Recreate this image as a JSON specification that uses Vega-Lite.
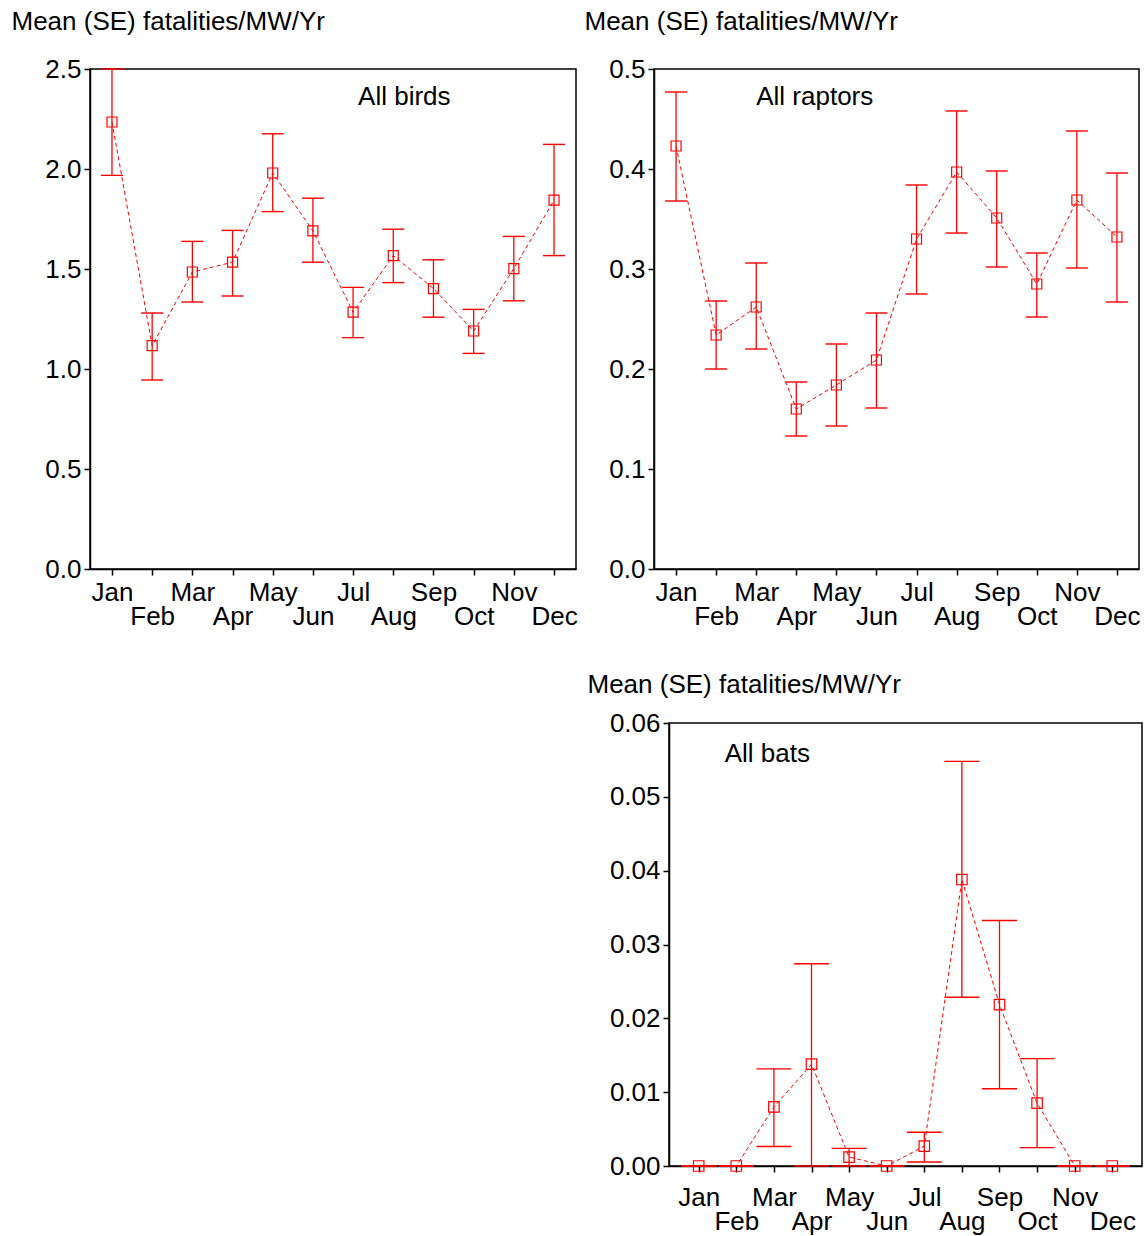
{
  "$schema": "https://vega.github.io/schema/vega-lite/v6.json",
  "background": "white",
  "padding": {"left": 10, "top": 7, "right": 5, "bottom": 5},
  "datasets": {
    "birds": [
      {"month": "Jan", "mean": 2.235, "lower": 1.968, "upper": 2.5},
      {"month": "Feb", "mean": 1.117, "lower": 0.945, "upper": 1.28},
      {"month": "Mar", "mean": 1.485, "lower": 1.335, "upper": 1.638},
      {"month": "Apr", "mean": 1.534, "lower": 1.365, "upper": 1.693},
      {"month": "May", "mean": 1.98, "lower": 1.787, "upper": 2.176},
      {"month": "Jun", "mean": 1.691, "lower": 1.534, "upper": 1.854},
      {"month": "Jul", "mean": 1.284, "lower": 1.157, "upper": 1.408},
      {"month": "Aug", "mean": 1.567, "lower": 1.432, "upper": 1.699},
      {"month": "Sep", "mean": 1.402, "lower": 1.259, "upper": 1.546},
      {"month": "Oct", "mean": 1.19, "lower": 1.078, "upper": 1.298},
      {"month": "Nov", "mean": 1.502, "lower": 1.341, "upper": 1.663},
      {"month": "Dec", "mean": 1.844, "lower": 1.567, "upper": 2.123}
    ],
    "raptors": [
      {"month": "Jan", "mean": 0.423, "lower": 0.368, "upper": 0.477},
      {"month": "Feb", "mean": 0.234, "lower": 0.2, "upper": 0.268},
      {"month": "Mar", "mean": 0.262, "lower": 0.22, "upper": 0.306},
      {"month": "Apr", "mean": 0.16, "lower": 0.133, "upper": 0.187},
      {"month": "May", "mean": 0.184, "lower": 0.143, "upper": 0.225},
      {"month": "Jun", "mean": 0.209, "lower": 0.161, "upper": 0.256},
      {"month": "Jul", "mean": 0.33, "lower": 0.275, "upper": 0.384},
      {"month": "Aug", "mean": 0.397, "lower": 0.336, "upper": 0.458},
      {"month": "Sep", "mean": 0.351, "lower": 0.302, "upper": 0.398},
      {"month": "Oct", "mean": 0.285, "lower": 0.252, "upper": 0.316},
      {"month": "Nov", "mean": 0.369, "lower": 0.301, "upper": 0.438},
      {"month": "Dec", "mean": 0.332, "lower": 0.267, "upper": 0.396}
    ],
    "bats": [
      {"month": "Jan", "mean": 0, "lower": 0, "upper": 0},
      {"month": "Feb", "mean": 0, "lower": 0, "upper": 0},
      {"month": "Mar", "mean": 0.008, "lower": 0.00264, "upper": 0.01315},
      {"month": "Apr", "mean": 0.01379, "lower": 0, "upper": 0.02739},
      {"month": "May", "mean": 0.0012, "lower": 0, "upper": 0.00239},
      {"month": "Jun", "mean": 0, "lower": 0, "upper": 0},
      {"month": "Jul", "mean": 0.00269, "lower": 0.00055, "upper": 0.00458},
      {"month": "Aug", "mean": 0.0388, "lower": 0.02286, "upper": 0.0548},
      {"month": "Sep", "mean": 0.02186, "lower": 0.01046, "upper": 0.03326},
      {"month": "Oct", "mean": 0.00851, "lower": 0.00249, "upper": 0.01454},
      {"month": "Nov", "mean": 0, "lower": 0, "upper": 0},
      {"month": "Dec", "mean": 0, "lower": 0, "upper": 0}
    ],
    "labels": [
      {"panel": "birds", "month": "Jul", "y": 2.36, "text": "All birds"},
      {"panel": "raptors", "month": "Mar", "y": 0.472, "text": "All raptors"},
      {"panel": "bats", "month": "Jan", "y": 0.0558, "text": "All bats"}
    ],
    "blank": [{"t": ""}]
  },
  "spacing": 40,
  "vconcat": [
    {
      "spacing": 5,
      "hconcat": [
        {
          "width": 486,
          "height": 500,
          "data": {"name": "birds"},
          "encoding": {
            "x": {
              "field": "month", "type": "ordinal",
              "sort": ["Jan","Feb","Mar","Apr","May","Jun","Jul","Aug","Sep","Oct","Nov","Dec"],
              "scale": {"type": "point", "padding": 0.547},
              "title": null
            }
          },
          "layer": [
            {
              "mark": {"type": "line", "color": "#ff0000", "strokeWidth": 1, "strokeDash": [4, 3]},
              "encoding": {
                "y": {"field": "mean", "type": "quantitative", "scale": {"domain": [0, 2.5], "nice": false},
                      "title": "Mean (SE) fatalities/MW/Yr",
                      "axis": {"values": [0, 0.5, 1, 1.5, 2, 2.5], "format": ".1f", "titleX": -79, "titleY": -40}}
              }
            },
            {
              "mark": {"type": "rule", "color": "#ff0000", "strokeWidth": 1.3},
              "encoding": {"y": {"field": "lower", "type": "quantitative", "scale": {"domain": [0, 2.5], "nice": false}, "title": "Mean (SE) fatalities/MW/Yr"}, "y2": {"field": "upper"}}
            },
            {
              "mark": {"type": "tick", "color": "#ff0000", "size": 22, "thickness": 1.4, "opacity": 1},
              "encoding": {"y": {"field": "lower", "type": "quantitative", "scale": {"domain": [0, 2.5], "nice": false}, "title": "Mean (SE) fatalities/MW/Yr"}}
            },
            {
              "mark": {"type": "tick", "color": "#ff0000", "size": 22, "thickness": 1.4, "opacity": 1},
              "encoding": {"y": {"field": "upper", "type": "quantitative", "scale": {"domain": [0, 2.5], "nice": false}, "title": "Mean (SE) fatalities/MW/Yr"}}
            },
            {
              "mark": {"type": "point", "shape": "square", "filled": false, "size": 100, "color": "#ff0000", "strokeWidth": 1.2, "opacity": 1},
              "encoding": {"y": {"field": "mean", "type": "quantitative", "scale": {"domain": [0, 2.5], "nice": false}, "title": "Mean (SE) fatalities/MW/Yr"}}
            },
            {
              "data": {"name": "labels"},
              "transform": [{"filter": "datum.panel == 'birds'"}],
              "mark": {"type": "text", "align": "left", "baseline": "middle", "dx": 5, "fontSize": 26, "color": "black"},
              "encoding": {"y": {"field": "y", "type": "quantitative", "scale": {"domain": [0, 2.5], "nice": false}, "title": "Mean (SE) fatalities/MW/Yr"}, "text": {"field": "text"}}
            }
          ]
        },
        {
          "width": 485,
          "height": 500,
          "data": {"name": "raptors"},
          "encoding": {
            "x": {
              "field": "month", "type": "ordinal",
              "sort": ["Jan","Feb","Mar","Apr","May","Jun","Jul","Aug","Sep","Oct","Nov","Dec"],
              "scale": {"type": "point", "padding": 0.55},
              "title": null
            }
          },
          "layer": [
            {
              "mark": {"type": "line", "color": "#ff0000", "strokeWidth": 1, "strokeDash": [4, 3]},
              "encoding": {
                "y": {"field": "mean", "type": "quantitative", "scale": {"domain": [0, 0.5], "nice": false},
                      "title": "Mean (SE) fatalities/MW/Yr",
                      "axis": {"values": [0, 0.1, 0.2, 0.3, 0.4, 0.5], "format": ".1f", "titleX": -70, "titleY": -40}}
              }
            },
            {
              "mark": {"type": "rule", "color": "#ff0000", "strokeWidth": 1.3},
              "encoding": {"y": {"field": "lower", "type": "quantitative", "scale": {"domain": [0, 0.5], "nice": false}, "title": "Mean (SE) fatalities/MW/Yr"}, "y2": {"field": "upper"}}
            },
            {
              "mark": {"type": "tick", "color": "#ff0000", "size": 22, "thickness": 1.4, "opacity": 1},
              "encoding": {"y": {"field": "lower", "type": "quantitative", "scale": {"domain": [0, 0.5], "nice": false}, "title": "Mean (SE) fatalities/MW/Yr"}}
            },
            {
              "mark": {"type": "tick", "color": "#ff0000", "size": 22, "thickness": 1.4, "opacity": 1},
              "encoding": {"y": {"field": "upper", "type": "quantitative", "scale": {"domain": [0, 0.5], "nice": false}, "title": "Mean (SE) fatalities/MW/Yr"}}
            },
            {
              "mark": {"type": "point", "shape": "square", "filled": false, "size": 100, "color": "#ff0000", "strokeWidth": 1.2, "opacity": 1},
              "encoding": {"y": {"field": "mean", "type": "quantitative", "scale": {"domain": [0, 0.5], "nice": false}, "title": "Mean (SE) fatalities/MW/Yr"}}
            },
            {
              "data": {"name": "labels"},
              "transform": [{"filter": "datum.panel == 'raptors'"}],
              "mark": {"type": "text", "align": "left", "baseline": "middle", "dx": 0, "fontSize": 26, "color": "black"},
              "encoding": {"y": {"field": "y", "type": "quantitative", "scale": {"domain": [0, 0.5], "nice": false}, "title": "Mean (SE) fatalities/MW/Yr"}, "text": {"field": "text"}}
            }
          ]
        }
      ]
    },
    {
      "spacing": 9,
      "hconcat": [
        {
          "width": 487,
          "height": 10,
          "view": {"stroke": null, "fill": "white"},
          "data": {"name": "blank"},
          "mark": {"type": "text"},
          "encoding": {"text": {"field": "t"}}
        },
        {
          "width": 473,
          "height": 443,
          "data": {"name": "bats"},
          "encoding": {
            "x": {
              "field": "month", "type": "ordinal",
              "sort": ["Jan","Feb","Mar","Apr","May","Jun","Jul","Aug","Sep","Oct","Nov","Dec"],
              "scale": {"type": "point", "padding": 0.79},
              "title": null,
              "axis": {"labelPadding": {"condition": {"test": "indexof(['Feb','Apr','Jun','Aug','Oct','Dec'], datum.value) >= 0", "value": 36}, "value": 12}}
            }
          },
          "layer": [
            {
              "mark": {"type": "line", "color": "#ff0000", "strokeWidth": 1, "strokeDash": [4, 3]},
              "encoding": {
                "y": {"field": "mean", "type": "quantitative", "scale": {"domain": [0, 0.06], "nice": false},
                      "title": "Mean (SE) fatalities/MW/Yr",
                      "axis": {"values": [0, 0.01, 0.02, 0.03, 0.04, 0.05, 0.06], "format": ".2f", "titleX": -82, "titleY": -31}}
              }
            },
            {
              "mark": {"type": "rule", "color": "#ff0000", "strokeWidth": 1.3},
              "encoding": {"y": {"field": "lower", "type": "quantitative", "scale": {"domain": [0, 0.06], "nice": false}, "title": "Mean (SE) fatalities/MW/Yr"}, "y2": {"field": "upper"}}
            },
            {
              "mark": {"type": "tick", "color": "#ff0000", "size": 35, "thickness": 1.4, "opacity": 1},
              "encoding": {"y": {"field": "lower", "type": "quantitative", "scale": {"domain": [0, 0.06], "nice": false}, "title": "Mean (SE) fatalities/MW/Yr"}}
            },
            {
              "mark": {"type": "tick", "color": "#ff0000", "size": 35, "thickness": 1.4, "opacity": 1},
              "encoding": {"y": {"field": "upper", "type": "quantitative", "scale": {"domain": [0, 0.06], "nice": false}, "title": "Mean (SE) fatalities/MW/Yr"}}
            },
            {
              "mark": {"type": "point", "shape": "square", "filled": false, "size": 110, "color": "#ff0000", "strokeWidth": 1.2, "opacity": 1},
              "encoding": {"y": {"field": "mean", "type": "quantitative", "scale": {"domain": [0, 0.06], "nice": false}, "title": "Mean (SE) fatalities/MW/Yr"}}
            },
            {
              "data": {"name": "labels"},
              "transform": [{"filter": "datum.panel == 'bats'"}],
              "mark": {"type": "text", "align": "left", "baseline": "middle", "dx": 26, "fontSize": 26, "color": "black"},
              "encoding": {"y": {"field": "y", "type": "quantitative", "scale": {"domain": [0, 0.06], "nice": false}, "title": "Mean (SE) fatalities/MW/Yr"}, "text": {"field": "text"}}
            }
          ]
        }
      ]
    }
  ],
  "config": {
    "font": "Liberation Sans",
    "view": {"stroke": "black", "strokeWidth": 1.5},
    "axis": {
      "domainColor": "black", "domainWidth": 1.5,
      "tickColor": "black", "tickWidth": 1.5, "tickSize": 6,
      "labelColor": "black", "labelFontSize": 26, "labelFont": "Liberation Sans",
      "titleColor": "black", "titleFontSize": 26, "titleFontWeight": "normal", "titleFont": "Liberation Sans",
      "grid": false, "labelOverlap": false
    },
    "axisY": {
      "titleAngle": 0, "titleAlign": "left", "titleBaseline": "alphabetic", "labelPadding": 3
    },
    "axisX": {
      "labelAngle": 0, "labelAlign": "center",
      "labelPadding": {"condition": {"test": "indexof(['Feb','Apr','Jun','Aug','Oct','Dec'], datum.value) >= 0", "value": 28}, "value": 4}
    }
  }
}
